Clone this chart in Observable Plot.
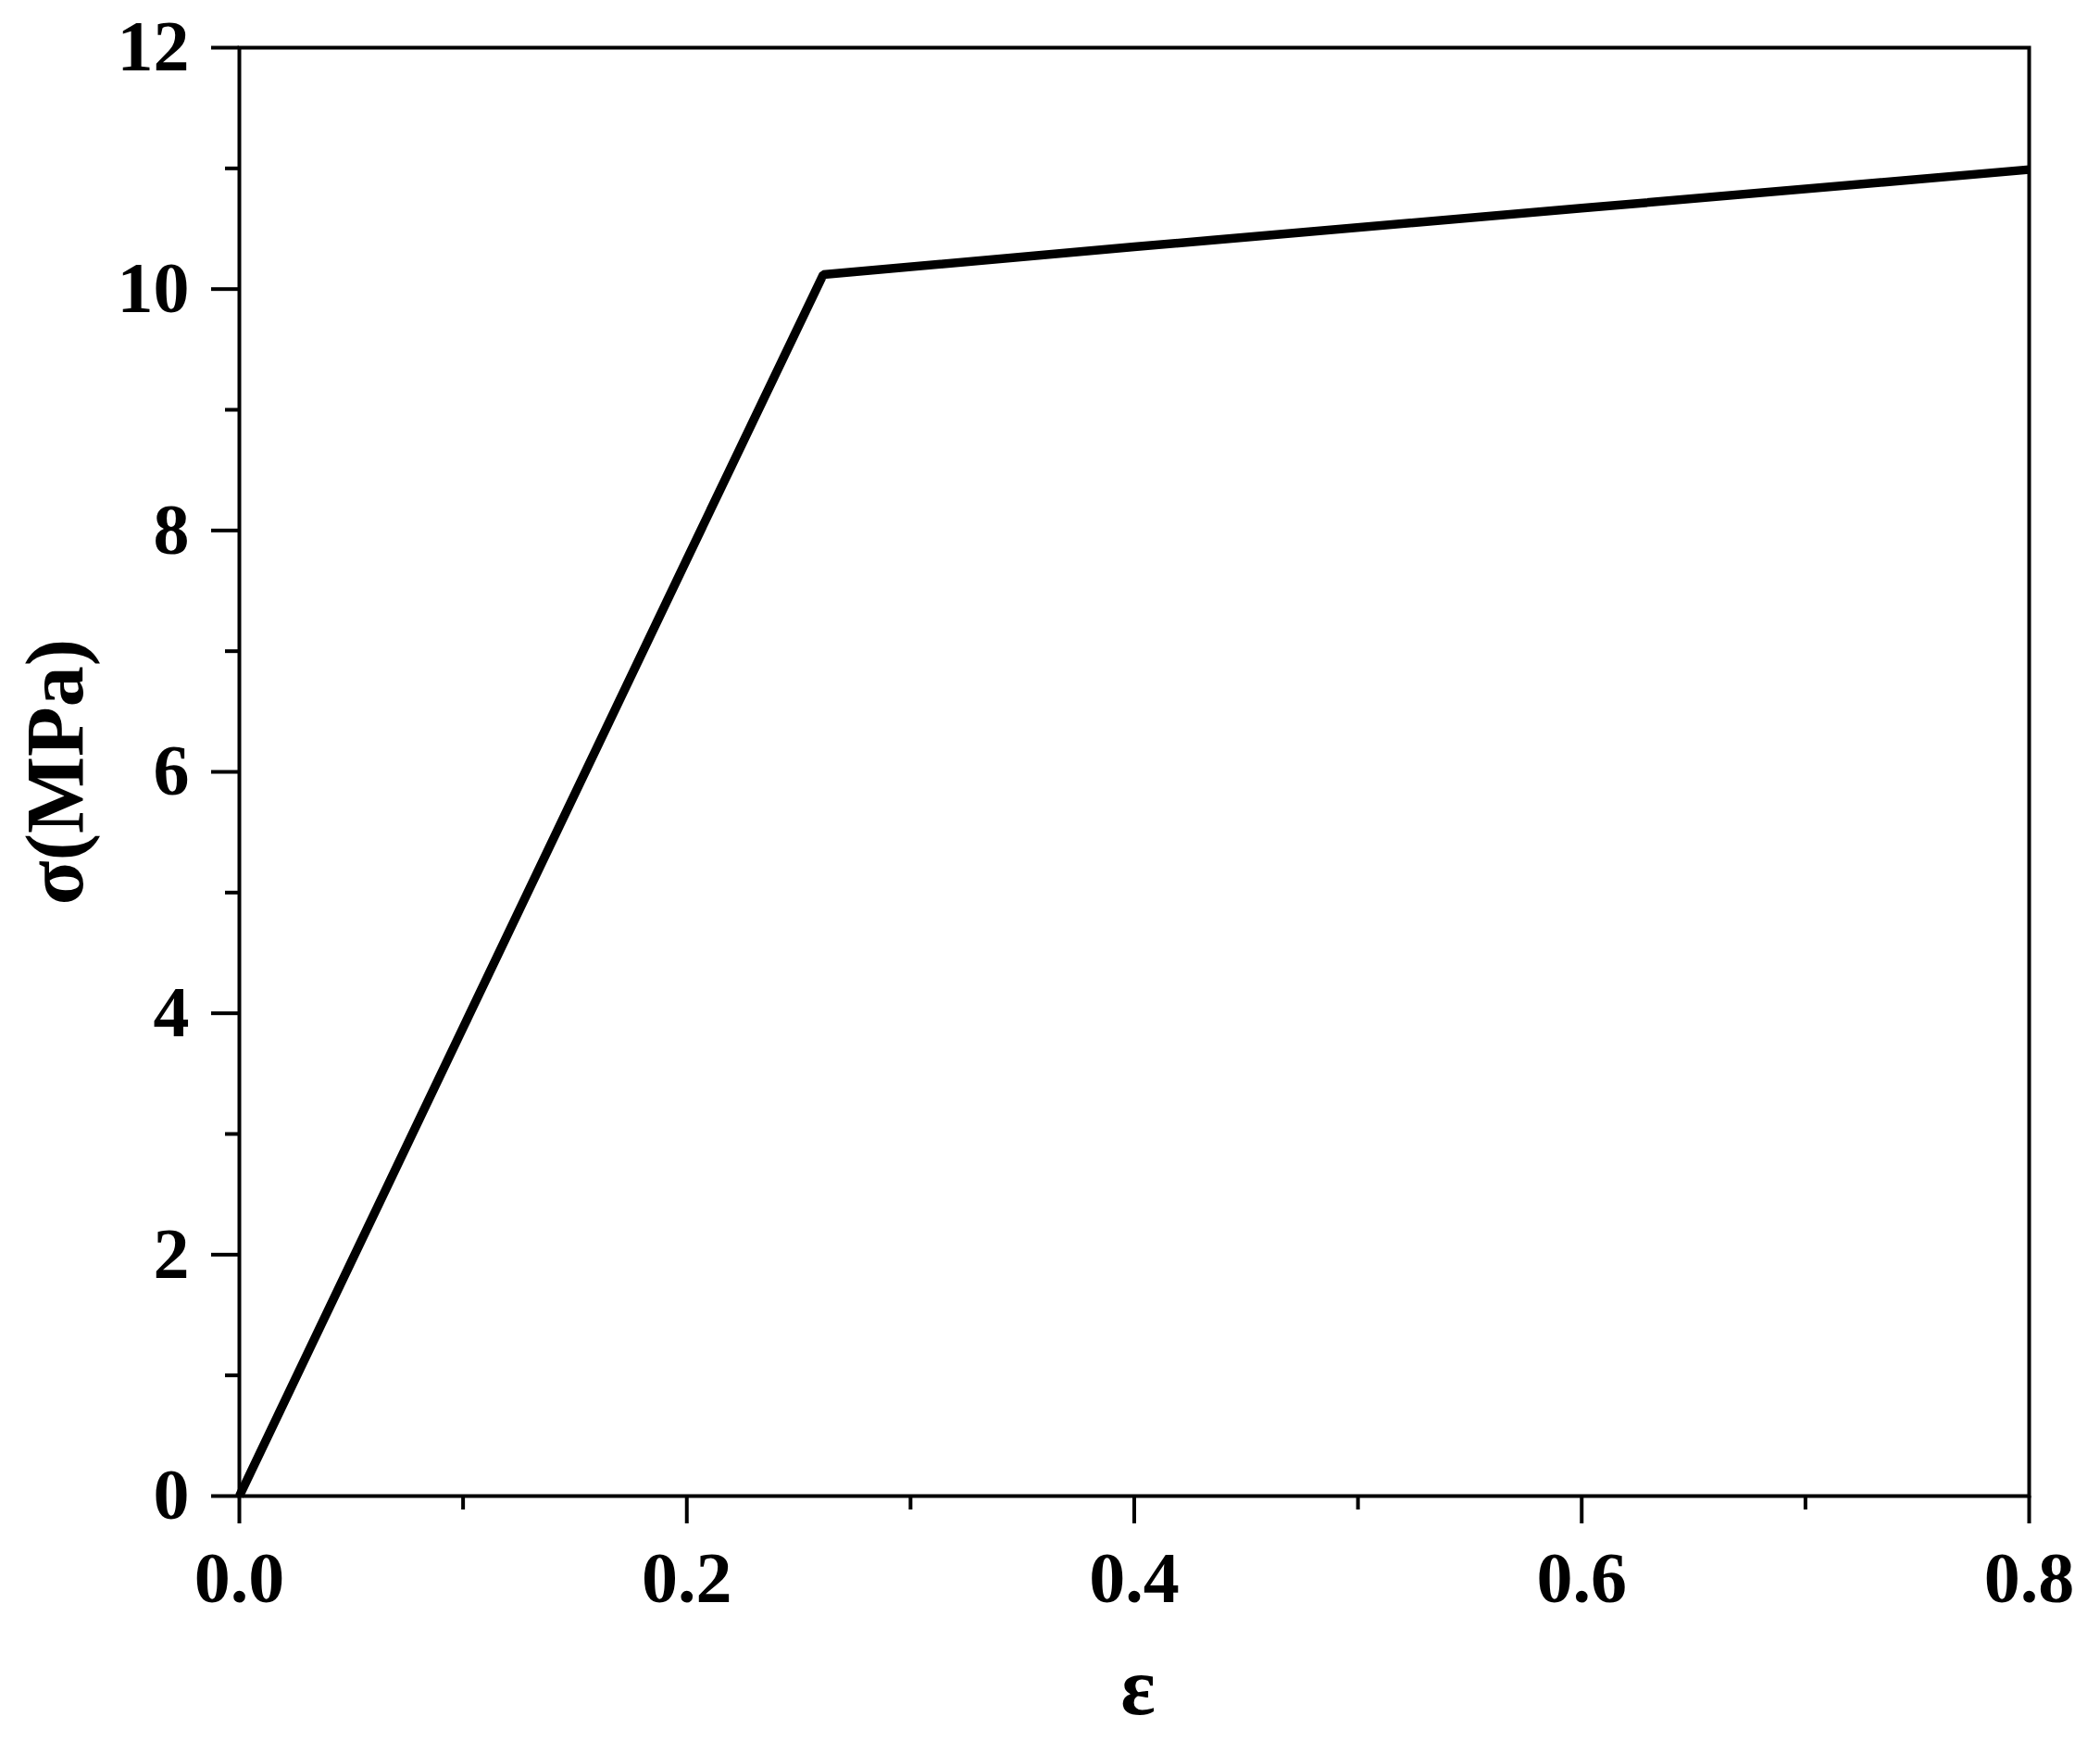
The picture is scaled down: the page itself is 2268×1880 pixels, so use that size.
<!DOCTYPE html>
<html>
<head>
<meta charset="utf-8">
<script src="https://cdn.jsdelivr.net/npm/d3@7"></script>
<script src="https://cdn.jsdelivr.net/npm/@observablehq/plot@0.6"></script>
<style>
  html, body { margin: 0; padding: 0; background: #fff; }
  #chart svg { display: block; }
</style>
</head>
<body>
<div id="chart"></div>
<script>
// Data (strain ε vs stress σ in MPa)
const strain = [0, 0.1, 0.2, 0.261, 0.4, 0.6, 0.8];
const stress = [0, 3.88, 7.76, 10.12, 10.35, 10.67, 10.99];

const xTicks = [0, 0.2, 0.4, 0.6, 0.8];
const xMinorTicks = [0.1, 0.3, 0.5, 0.7];
const yTicks = [0, 2, 4, 6, 8, 10, 12];
const yMinorTicks = [1, 3, 5, 7, 9, 11];

const xTitle = "ε";
const yTitle = "σ(MPa)";

const data = strain.map((e, i) => ({e, s: stress[i]}));

const font = "'Liberation Serif', 'Times New Roman', serif";

const chart = Plot.plot({
  width: 2268,
  height: 1880,
  marginLeft: 258,
  marginRight: 77,
  marginTop: 51,
  marginBottom: 265,
  style: {background: "#fff", fontFamily: font},
  x: {domain: [0, 0.8]},
  y: {domain: [0, 12]},
  marks: [
    Plot.line(data, {
      x: "e", y: "s",
      stroke: "black", strokeWidth: 9.5,
      strokeLinejoin: "miter", strokeLinecap: "butt"
    }),
    Plot.frame({stroke: "black", strokeWidth: 4}),
    Plot.axisX(xTicks, {
      tickSize: 30, tickPadding: 29, strokeWidth: 4, stroke: "black",
      tickFormat: d3.format(".1f"),
      fontSize: 78, fontWeight: "bold", fontFamily: font, fill: "black",
      label: null
    }),
    Plot.axisX(xMinorTicks, {
      tickSize: 15, strokeWidth: 4, stroke: "black",
      tickFormat: () => "", label: null
    }),
    Plot.axisY(yTicks, {
      tickSize: 30, tickPadding: 24, strokeWidth: 4, stroke: "black",
      tickFormat: d3.format("d"),
      fontSize: 78, fontWeight: "bold", fontFamily: font, fill: "black",
      label: null
    }),
    Plot.axisY(yMinorTicks, {
      tickSize: 15, strokeWidth: 4, stroke: "black",
      tickFormat: () => "", label: null
    }),
    Plot.text([yTitle], {
      text: d => d,
      frameAnchor: "left", rotate: -90, dx: -198,
      textAnchor: "middle", lineAnchor: "middle",
      fontSize: 88, fontWeight: "bold", fontFamily: font, fill: "black"
    }),
    Plot.text([xTitle], {
      text: d => d,
      frameAnchor: "bottom", dy: 207, dx: 4,
      textAnchor: "middle", lineAnchor: "middle",
      fontSize: 88, fontWeight: "bold", fontFamily: font, fill: "black"
    })
  ]
});

document.getElementById("chart").appendChild(chart);
</script>
</body>
</html>
